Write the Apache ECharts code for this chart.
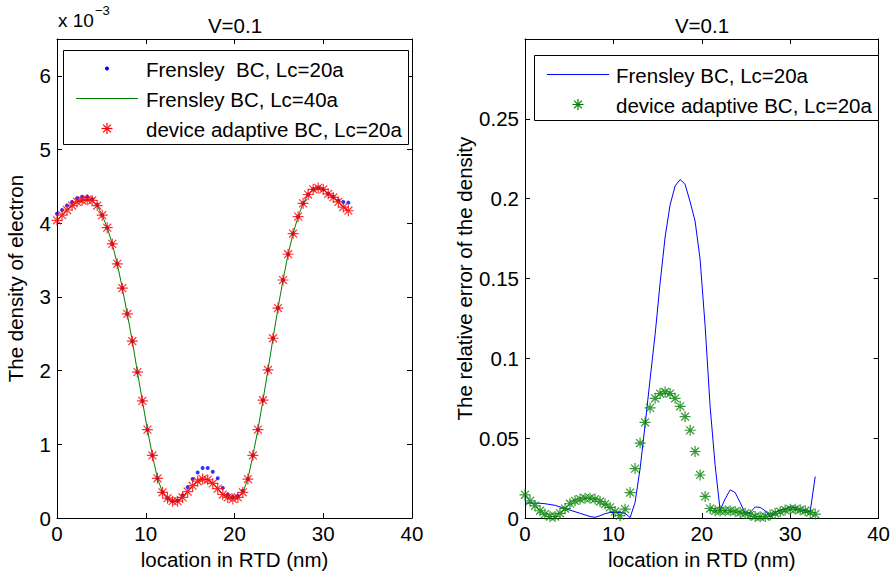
<!DOCTYPE html>
<html>
<head>
<meta charset="utf-8">
<script src="https://cdn.jsdelivr.net/npm/echarts@6/dist/echarts.min.js"></script>
<style>
html,body{margin:0;padding:0;background:#fff;}
#chart{width:893px;height:575px;}
</style>
</head>
<body>
<div id="chart"></div>
<script>
// location in RTD (nm), shared grid of sample points
var xPos = [0, 0.57, 1.13, 1.70, 2.26, 2.83, 3.40, 3.96, 4.53, 5.09,
  5.66, 6.23, 6.79, 7.36, 7.92, 8.49, 9.06, 9.62, 10.19, 10.75,
  11.32, 11.89, 12.45, 13.02, 13.58, 14.15, 14.72, 15.28, 15.85, 16.41,
  16.98, 17.55, 18.11, 18.68, 19.24, 19.81, 20.38, 20.94, 21.51, 22.07,
  22.64, 23.21, 23.77, 24.34, 24.90, 25.47, 26.04, 26.60, 27.17, 27.73,
  28.30, 28.87, 29.43, 30.00, 30.56, 31.13, 31.70, 32.26, 32.83];

// left panel: density of electron (x 1e-3)
var densFrensley20 = [4.13, 4.18, 4.24, 4.29, 4.34, 4.36, 4.36, 4.33, 4.25, 4.11,
  3.94, 3.72, 3.45, 3.12, 2.77, 2.40, 1.98, 1.59, 1.20, 0.85,
  0.54, 0.35, 0.27, 0.23, 0.24, 0.31, 0.42, 0.53, 0.62, 0.68,
  0.68, 0.63, 0.54, 0.41, 0.32, 0.29, 0.30, 0.37, 0.53, 0.85,
  1.20, 1.60, 2.01, 2.44, 2.85, 3.23, 3.58, 3.86, 4.09, 4.27,
  4.39, 4.46, 4.48, 4.46, 4.40, 4.36, 4.31, 4.29, 4.28];
var densFrensley40 = [4.04, 4.11, 4.18, 4.24, 4.29, 4.31, 4.32, 4.31, 4.24, 4.11,
  3.94, 3.72, 3.45, 3.12, 2.77, 2.40, 1.98, 1.59, 1.20, 0.85,
  0.54, 0.35, 0.27, 0.23, 0.23, 0.28, 0.36, 0.44, 0.50, 0.53,
  0.52, 0.47, 0.40, 0.32, 0.28, 0.26, 0.28, 0.35, 0.53, 0.85,
  1.20, 1.60, 2.01, 2.44, 2.85, 3.23, 3.58, 3.86, 4.09, 4.27,
  4.39, 4.46, 4.48, 4.46, 4.40, 4.35, 4.29, 4.22, 4.17];
var densAdaptive = [4.04, 4.11, 4.18, 4.24, 4.29, 4.31, 4.32, 4.31, 4.24, 4.11,
  3.94, 3.72, 3.45, 3.12, 2.77, 2.40, 1.98, 1.59, 1.20, 0.85,
  0.54, 0.35, 0.27, 0.23, 0.23, 0.28, 0.36, 0.44, 0.50, 0.53,
  0.52, 0.47, 0.40, 0.32, 0.28, 0.26, 0.28, 0.35, 0.53, 0.85,
  1.20, 1.60, 2.01, 2.44, 2.85, 3.23, 3.58, 3.86, 4.09, 4.27,
  4.39, 4.46, 4.48, 4.46, 4.40, 4.35, 4.29, 4.22, 4.17];

// right panel: relative error of the density
var errFrensley20 = [0.0094, 0.0094, 0.0094, 0.0093, 0.0090, 0.0085, 0.0080, 0.0070, 0.0060, 0.0050,
  0.0040, 0.0030, 0.0020, 0.0010, 0.0005, 0.0015, 0.0028, 0.0035, 0.0035, 0.0035,
  0.0030, 0.0003, 0.0098, 0.031, 0.058, 0.087, 0.115, 0.147, 0.176, 0.196,
  0.208, 0.212, 0.209, 0.198, 0.186, 0.162, 0.120, 0.070, 0.033, 0.005,
  0.012, 0.0177, 0.016, 0.0098, 0.0030, 0.0035, 0.0070, 0.0067, 0.0046, 0.0010,
  0.0035, 0.0050, 0.0058, 0.0070, 0.0067, 0.0046, 0.0046, 0.0040, 0.026];
var errAdaptive = [0.0146, 0.0108, 0.0077, 0.0046, 0.0025, 0.0010, 0.0010, 0.0030, 0.0060, 0.0090,
  0.0108, 0.0119, 0.0125, 0.0125, 0.0119, 0.0104, 0.0088, 0.0067, 0.0042, 0.0015,
  0.0056, 0.016, 0.031, 0.047, 0.060, 0.069, 0.075, 0.078, 0.079, 0.078,
  0.075, 0.070, 0.0635, 0.055, 0.0417, 0.027, 0.0136, 0.0060, 0.0046, 0.0045,
  0.0046, 0.0046, 0.0042, 0.0035, 0.0030, 0.0020, 0.0010, 0.0008, 0.0010, 0.0020,
  0.0030, 0.0040, 0.0050, 0.0056, 0.0056, 0.0052, 0.0046, 0.0035, 0.0025];

var xTicks = [0, 10, 20, 30, 40];
var leftYTicks = [0, 1, 2, 3, 4, 5, 6];
var rightYTicks = [0, 0.05, 0.1, 0.15, 0.2, 0.25];

var nameLeft1 = 'Frensley  BC, Lc=20a';
var nameLeft2 = 'Frensley BC, Lc=40a';
var nameLeft3 = 'device adaptive BC, Lc=20a';
var nameRight1 = 'Frensley BC, Lc=20a';
var nameRight2 = 'device adaptive BC, Lc=20a ';

function pairs(xs, ys) { return xs.map(function (x, i) { return [x, ys[i]]; }); }

var FONT = '"Liberation Sans", Arial, Helvetica, sans-serif';
var STAR = 'path://M0,-5L0,5M-5,0L5,0M-3.6,-3.6L3.6,3.6M-3.6,3.6L3.6,-3.6';

function xAx(grid, pos, showLabels, name) {
  return {
    type: 'value', gridIndex: grid, position: pos, min: 0, max: 40, interval: 10,
    axisLine: { show: true, onZero: false, lineStyle: { color: '#000', width: 1 } },
    axisTick: { show: true, inside: true, length: 5, lineStyle: { color: '#000' } },
    axisLabel: { show: showLabels, margin: 5, fontSize: 20.5, color: '#000', fontFamily: FONT },
    splitLine: { show: false },
    name: name || '', nameLocation: 'middle', nameGap: 29,
    nameTextStyle: { fontSize: 20.5, color: '#000', fontFamily: FONT }
  };
}
function yAx(grid, pos, max, interval, showLabels, name, gap) {
  return {
    type: 'value', gridIndex: grid, position: pos, min: 0, max: max, interval: interval,
    axisLine: { show: true, onZero: false, lineStyle: { color: '#000', width: 1 } },
    axisTick: { show: true, inside: true, length: 5, lineStyle: { color: '#000' } },
    axisLabel: { show: showLabels, margin: 6, fontSize: 20.5, color: '#000', fontFamily: FONT, showMaxLabel: false },
    splitLine: { show: false },
    name: name || '', nameLocation: 'middle', nameGap: gap || 0,
    nameTextStyle: { fontSize: 20.5, color: '#000', fontFamily: FONT }
  };
}

function starGroup(cx, cy, color) {
  var segs = [[0, -5.5, 0, 5.5], [-5.5, 0, 5.5, 0], [-3.9, -3.9, 3.9, 3.9], [-3.9, 3.9, 3.9, -3.9]];
  return {
    type: 'group', x: cx, y: cy, z: 101,
    children: segs.map(function (s) {
      return { type: 'line', shape: { x1: s[0], y1: s[1], x2: s[2], y2: s[3] }, style: { stroke: color, lineWidth: 1.2 }, z: 101 };
    })
  };
}

var chart = echarts.init(document.getElementById('chart'), null, { renderer: 'svg', width: 893, height: 575 });

var txt = { fontSize: 20.5, fill: '#000', fontFamily: FONT };
function legendText(x, y, s) {
  return { type: 'text', x: x, y: y, style: Object.assign({ text: s, verticalAlign: 'middle', align: 'left' }, txt), z: 101 };
}

chart.setOption({
  animation: false,
  backgroundColor: '#fff',
  grid: [
    { left: 57, top: 39, width: 355, height: 480 },
    { left: 525, top: 39, width: 354, height: 480 }
  ],
  xAxis: [
    xAx(0, 'bottom', true, 'location in RTD (nm)'),
    xAx(0, 'top', false),
    xAx(1, 'bottom', true, 'location in RTD (nm)'),
    xAx(1, 'top', false)
  ],
  yAxis: [
    yAx(0, 'left', 6.5, 1, true, 'The density of electron', 31),
    yAx(0, 'right', 6.5, 1, false),
    yAx(1, 'left', 0.3, 0.05, true, 'The relative error of the density', 29),
    yAx(1, 'right', 0.3, 0.05, false)
  ],
  series: [
    { name: nameLeft1, type: 'scatter', xAxisIndex: 0, yAxisIndex: 0, data: pairs(xPos, densFrensley20),
      symbol: 'circle', symbolSize: 4, itemStyle: { color: '#0000ff' }, z: 2 },
    { name: nameLeft2, type: 'line', xAxisIndex: 0, yAxisIndex: 0, data: pairs(xPos, densFrensley40),
      showSymbol: false, symbol: 'none', lineStyle: { color: '#008000', width: 1 }, itemStyle: { color: '#008000' }, z: 3 },
    { name: nameLeft3, type: 'scatter', xAxisIndex: 0, yAxisIndex: 0, data: pairs(xPos, densAdaptive),
      symbol: STAR, symbolSize: 11, itemStyle: { color: 'rgba(0,0,0,0)', borderColor: '#ff0000', borderWidth: 1.2 }, z: 4 },
    { name: nameRight1, type: 'line', xAxisIndex: 2, yAxisIndex: 2, data: pairs(xPos, errFrensley20),
      showSymbol: false, symbol: 'none', lineStyle: { color: '#0000ff', width: 1 }, itemStyle: { color: '#0000ff' }, z: 2 },
    { name: nameRight2, type: 'scatter', xAxisIndex: 2, yAxisIndex: 2, data: pairs(xPos, errAdaptive),
      symbol: STAR, symbolSize: 11, itemStyle: { color: 'rgba(0,0,0,0)', borderColor: '#008000', borderWidth: 1.2 }, z: 3 }
  ],
  graphic: [
    // exponent label of the left y axis
    { type: 'text', x: 58, y: 11, style: { text: 'x 10', fontSize: 19, fill: '#000', fontFamily: FONT } },
    { type: 'text', x: 95, y: 4, style: { text: '\u22123', fontSize: 13, fill: '#000', fontFamily: FONT } },
    // titles
    { type: 'text', x: 235, y: 25, style: Object.assign({ text: 'V=0.1', align: 'center', verticalAlign: 'middle' }, txt) },
    { type: 'text', x: 702, y: 25, style: Object.assign({ text: 'V=0.1', align: 'center', verticalAlign: 'middle' }, txt) },
    // left legend
    { type: 'rect', shape: { x: 63.5, y: 50.5, width: 345, height: 94 }, style: { fill: '#fff', stroke: '#000', lineWidth: 1 }, z: 100 },
    { type: 'circle', shape: { cx: 107, cy: 68.5, r: 2 }, style: { fill: '#0000ff' }, z: 101 },
    { type: 'line', shape: { x1: 76, y1: 98.5, x2: 138, y2: 98.5 }, style: { stroke: '#008000', lineWidth: 1 }, z: 101 },
    starGroup(107, 128.5, '#ff0000'),
    legendText(146, 69, nameLeft1),
    legendText(146, 99, nameLeft2),
    legendText(146, 129, nameLeft3),
    // right legend
    { type: 'rect', shape: { x: 534.5, y: 55.5, width: 344, height: 65 }, style: { fill: '#fff', stroke: '#000', lineWidth: 1 }, z: 100 },
    { type: 'line', shape: { x1: 547, y1: 74.5, x2: 609, y2: 74.5 }, style: { stroke: '#0000ff', lineWidth: 1 }, z: 101 },
    starGroup(578, 104.5, '#008000'),
    legendText(616, 75, nameRight1),
    legendText(616, 105, 'device adaptive BC, Lc=20a')
  ]
});
</script>
</body>
</html>
